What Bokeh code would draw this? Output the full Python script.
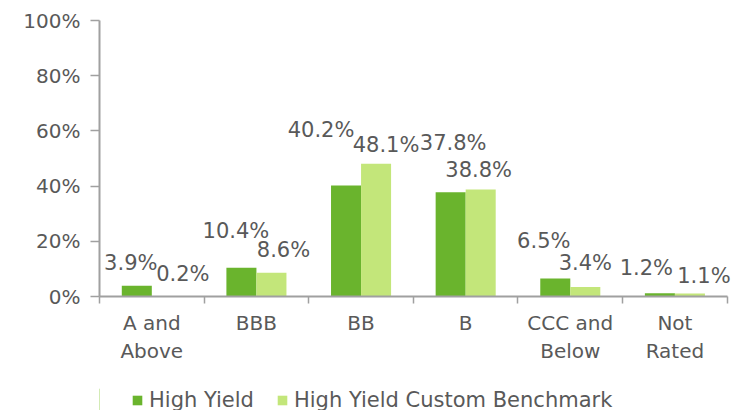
from bokeh.plotting import figure
from bokeh.layouts import column
from bokeh.models import (FixedTicker, LinearAxis, Range1d, Legend, LegendItem,
                          ColumnDataSource, PrintfTickFormatter)
from bokeh.core.properties import value
from bokeh.embed import file_html
from bokeh.resources import INLINE

# ---- data ----
categories = ["A and\nAbove", "BBB", "BB", "B", "CCC and\nBelow", "Not\nRated"]
high_yield = [3.9, 10.4, 40.2, 37.8, 6.5, 1.2]
benchmark = [0.2, 8.6, 48.1, 38.8, 3.4, 1.1]
y_ticks = [0, 20, 40, 60, 80, 100]
series_names = ["High Yield", "High Yield Custom Benchmark"]

# ---- style ----
DARK = "#6AB42D"
LIGHT = "#C3E67A"
TEXT = "#595959"
AXIS = "#A0A0A0"
FONT = "DejaVu Sans"
BAR_W = 0.287
SHIFT = 0.1435
# label offsets in px (label placement, as in the original)
hy_dx = [-6, -5.5, -25, 2.5, -11.5, -13.5]
hy_dy = [-22.5, -37, -55.5, -49, -37.5, -25]
bm_dx = [16, 12, 10, -2, 0, 14]
bm_dy = [-22, -23, -19, -19, -24, -17.5]

n = len(categories)
centers = [i + 0.5 for i in range(n)]

p = figure(output_backend="svg", toolbar_location=None, title=None,
           width=734, height=388,
           x_range=Range1d(0, 6.06), y_range=Range1d(0, 100),
           x_axis_location=None, y_axis_location=None,
           min_border_left=99, min_border_right=1, min_border_top=20, min_border_bottom=92)
p.outline_line_color = None
p.xgrid.visible = False
p.ygrid.visible = False
p.background_fill_color = "white"
p.border_fill_color = "white"

src_hy = ColumnDataSource(dict(
    x=[c - SHIFT for c in centers], top=high_yield,
    label=[f"{v:.1f}%" for v in high_yield], dx=hy_dx, dy=hy_dy))
src_bm = ColumnDataSource(dict(
    x=[c + SHIFT for c in centers], top=benchmark,
    label=[f"{v:.1f}%" for v in benchmark], dx=bm_dx, dy=bm_dy))

p.vbar(x="x", top="top", width=BAR_W, bottom=0, source=src_hy,
       fill_color=DARK, line_color=None)
p.vbar(x="x", top="top", width=BAR_W, bottom=0, source=src_bm,
       fill_color=LIGHT, line_color=None)

for src in (src_hy, src_bm):
    p.text(x="x", y="top", text="label", x_offset="dx", y_offset="dy", source=src,
           text_align="center", text_baseline="middle",
           text_font=value(FONT), text_font_size="21px", text_color=TEXT)

# y axis
yax = LinearAxis(ticker=FixedTicker(ticks=y_ticks),
                 formatter=PrintfTickFormatter(format="%d%%"))
yax.axis_line_color = AXIS
yax.axis_line_width = 2
yax.major_tick_line_color = AXIS
yax.major_tick_line_width = 1.5
yax.major_tick_in = 0
yax.major_tick_out = 9
yax.minor_tick_line_color = None
yax.major_label_standoff = 10
yax.major_label_text_font = FONT
yax.major_label_text_font_size = "20px"
yax.major_label_text_color = TEXT
p.add_layout(yax, "left")

# x axis: boundary ticks
xax = LinearAxis(ticker=FixedTicker(ticks=list(range(n + 1))), bounds=(0, n))
xax.axis_line_color = AXIS
xax.axis_line_width = 2
xax.major_tick_line_color = AXIS
xax.major_tick_line_width = 1.5
xax.major_tick_in = 0
xax.major_tick_out = 7
xax.minor_tick_line_color = None
xax.major_label_text_font_size = "0px"
xax.major_label_standoff = 0
xax.major_label_overrides = {i: "" for i in range(n + 1)}
p.add_layout(xax, "below")

# x axis: category labels
xlab = LinearAxis(ticker=FixedTicker(ticks=centers))
xlab.major_label_overrides = {c: lab for c, lab in zip(centers, categories)}
xlab.axis_line_color = None
xlab.major_tick_line_color = None
xlab.minor_tick_line_color = None
xlab.major_tick_in = 0
xlab.major_tick_out = 0
xlab.major_label_standoff = 7
xlab.major_label_text_font = FONT
xlab.major_label_text_font_size = "20px"
xlab.major_label_text_color = TEXT
p.add_layout(xlab, "below")

# ---- legend strip (separate small figure) ----
q = figure(output_backend="svg", toolbar_location=None, title=None,
           width=734, height=22, x_range=Range1d(0, 1), y_range=Range1d(0, 1),
           x_axis_location=None, y_axis_location=None,
           min_border_left=99, min_border_right=1, min_border_top=0, min_border_bottom=0)
q.outline_line_color = None
q.xgrid.visible = False
q.ygrid.visible = False
q.background_fill_color = "white"
q.border_fill_color = "white"
lr1 = q.vbar(x=[-5], top=[1], width=0.1, fill_color=DARK, line_color=None)
lr2 = q.vbar(x=[-5], top=[1], width=0.1, fill_color=LIGHT, line_color=None)
legend = Legend(items=[LegendItem(label=series_names[0], renderers=[lr1]),
                       LegendItem(label=series_names[1], renderers=[lr2])],
                orientation="horizontal", location=(32, -2),
                glyph_width=12, glyph_height=12, label_standoff=6, spacing=22,
                padding=0, margin=0, border_line_color=None,
                background_fill_alpha=0,
                label_text_font=FONT, label_text_font_size="21px",
                label_text_color=TEXT)
q.add_layout(legend, "center")

layout = column(p, q, spacing=0)
open("out.html", "w").write(file_html(layout, INLINE))
